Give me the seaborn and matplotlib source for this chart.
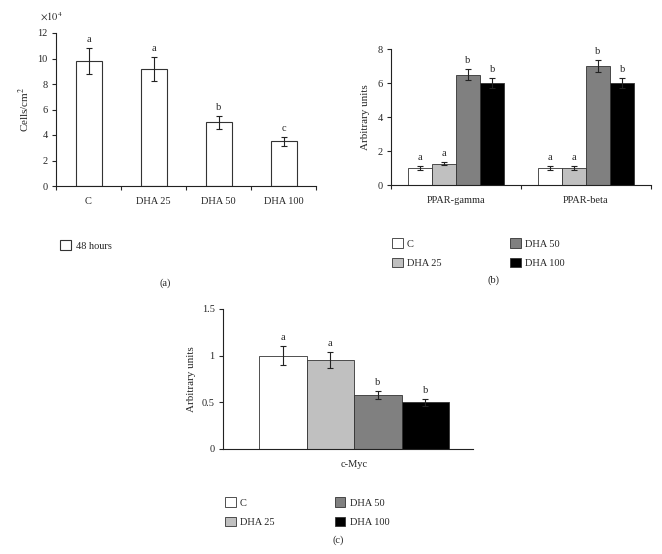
import matplotlib
matplotlib.use("Agg")
import matplotlib.pyplot as plt
import matplotlib.ticker as ticker
from matplotlib.patches import Patch
import pandas as pd
import seaborn as sns

# --- data ---
cell_groups = ['C', 'DHA 25', 'DHA 50', 'DHA 100']
cell_counts = [9.8, 9.15, 5.0, 3.5]          # x10^4 cells/cm2
cell_err = [1.0, 0.95, 0.5, 0.35]
cell_letters = ['a', 'a', 'b', 'c']

treatments = ['C', 'DHA 25', 'DHA 50', 'DHA 100']
treat_colors = ['#ffffff', '#c0c0c0', '#808080', '#000000']

ppar_genes = ['PPAR-gamma', 'PPAR-beta']
ppar_gamma = [1.0, 1.25, 6.5, 6.0]
ppar_gamma_err = [0.12, 0.1, 0.3, 0.3]
ppar_beta = [1.0, 1.0, 7.0, 6.0]
ppar_beta_err = [0.1, 0.12, 0.35, 0.3]
ppar_gamma_letters = ['a', 'a', 'b', 'b']
ppar_beta_letters = ['a', 'a', 'b', 'b']

myc_gene = ['c-Myc']
myc_values = [1.0, 0.95, 0.58, 0.5]
myc_err = [0.1, 0.085, 0.04, 0.035]
myc_letters = ['a', 'a', 'b', 'b']

sns.set_theme(style="ticks")
plt.rcParams.update({
    'font.family': ['Liberation Serif', 'DejaVu Serif'],
    'mathtext.fontset': 'stix',
    'font.size': 7.5,
    'axes.linewidth': 0.8,
    'axes.edgecolor': '#222222',
    'xtick.labelsize': 7.5,
    'ytick.labelsize': 7.5,
    'xtick.major.size': 3,
    'ytick.major.size': 3,
    'xtick.minor.size': 3,
    'ytick.direction': 'out',
    'xtick.direction': 'out',
})

W, H = 662, 554
fig = plt.figure(figsize=(W / 100, H / 100), dpi=100)


def px_axes(left, right, top, bottom):
    return fig.add_axes([left / W, 1 - bottom / H, (right - left) / W, (bottom - top) / H])


def style_axis(ax, boundaries):
    sns.despine(ax=ax)
    ax.set_xlabel('')
    ax.tick_params(axis='x', which='major', length=0, pad=8)
    ax.tick_params(axis='y', length=3, width=0.8, pad=3)
    if boundaries is not None:
        ax.xaxis.set_minor_locator(ticker.FixedLocator(boundaries))
        ax.tick_params(axis='x', which='minor', length=3, width=0.8)
    ax.yaxis.set_major_formatter(ticker.FormatStrFormatter('%g'))


def add_errors(ax, xs, ys, errs, letters):
    ax.errorbar(xs, ys, yerr=errs, fmt='none', ecolor='#222222', elinewidth=0.8,
                capsize=2.5, capthick=0.8, zorder=4)
    for x, y, e, t in zip(xs, ys, errs, letters):
        ax.annotate(t, (x, y + e), xytext=(0, 3), textcoords='offset points',
                    ha='center', va='bottom', fontsize=7.5)


# ---------------- (a) cell counts ----------------
ax_a = px_axes(56, 316, 33, 186)
df_a = pd.DataFrame({'group': cell_groups, 'count': cell_counts})
sns.barplot(data=df_a, x='group', y='count', color='white', edgecolor='#333333',
            linewidth=0.8, width=0.4, errorbar=None, ax=ax_a)
ax_a.set_ylim(0, 12)
ax_a.set_yticks(range(0, 13, 2))
ax_a.set_xlim(-0.5, 3.5)
style_axis(ax_a, [-0.5, 0.5, 1.5, 2.5, 3.5])
ax_a.set_ylabel(r'Cells/cm$^2$', fontsize=8)
ax_a.yaxis.set_label_coords(-0.092, 0.5)
xs_a = [p.get_x() + p.get_width() / 2 for p in ax_a.patches]
add_errors(ax_a, xs_a, cell_counts, cell_err, cell_letters)
fig.text(40 / W, 1 - 17 / H, r'$\times 10^4$', fontsize=7.5, va='center', ha='left')
ax_a.legend(handles=[Patch(facecolor='white', edgecolor='#333333', linewidth=0.8)],
            labels=['48 hours'], loc='upper left', bbox_to_anchor=(51 / W, 1 - 231 / H),
            bbox_transform=fig.transFigure, frameon=False, handlelength=1.0,
            handleheight=1.0, handletextpad=0.5, fontsize=7.5)
fig.text(165 / W, 1 - 283 / H, '(a)', ha='center', va='center', fontsize=7.5)

# ---------------- (b) PPAR ----------------
ax_b = px_axes(391, 651, 49, 185)
df_b = pd.DataFrame({
    'gene': [g for g in ppar_genes for _ in treatments],
    'treatment': treatments * len(ppar_genes),
    'value': ppar_gamma + ppar_beta,
})
sns.barplot(data=df_b, x='gene', y='value', hue='treatment', hue_order=treatments,
            palette=treat_colors, edgecolor='#333333', linewidth=0.6, width=0.74,
            errorbar=None, legend=False, ax=ax_b)
ax_b.set_ylim(0, 8)
ax_b.set_yticks(range(0, 9, 2))
ax_b.set_xlim(-0.5, 1.5)
style_axis(ax_b, [-0.5, 0.5, 1.5])
ax_b.set_ylabel('Arbitrary units', fontsize=8)
ax_b.yaxis.set_label_coords(-0.08, 0.5)
bar_groups_b = list(ax_b.containers)
for i, cont in enumerate(bar_groups_b):
    xs = [p.get_x() + p.get_width() / 2 for p in cont]
    add_errors(ax_b, xs, [ppar_gamma[i], ppar_beta[i]], [ppar_gamma_err[i], ppar_beta_err[i]],
               [ppar_gamma_letters[i], ppar_beta_letters[i]])
handles = [Patch(facecolor=c, edgecolor='#333333', linewidth=0.6) for c in treat_colors]
ax_b.legend(handles=handles, labels=treatments, ncol=2, loc='upper left',
            bbox_to_anchor=(383 / W, 1 - 229 / H), bbox_transform=fig.transFigure,
            frameon=False, handlelength=1.0, handleheight=1.0, handletextpad=0.4,
            columnspacing=6.6, labelspacing=0.9, fontsize=7.5)
fig.text(494 / W, 1 - 280 / H, '(b)', ha='center', va='center', fontsize=7.5)

# ---------------- (c) c-Myc ----------------
ax_c = px_axes(223, 473, 309, 449)
df_c = pd.DataFrame({'gene': myc_gene * len(treatments), 'treatment': treatments,
                     'value': myc_values})
sns.barplot(data=df_c, x='gene', y='value', hue='treatment', hue_order=treatments,
            palette=treat_colors, edgecolor='#333333', linewidth=0.6, width=0.76,
            errorbar=None, legend=False, ax=ax_c)
ax_c.set_ylim(0, 1.5)
ax_c.set_yticks([0, 0.5, 1, 1.5])
ax_c.set_xlim(-0.524, 0.476)
style_axis(ax_c, None)
ax_c.set_ylabel('Arbitrary units', fontsize=8)
ax_c.yaxis.set_label_coords(-0.11, 0.5)
bar_groups_c = list(ax_c.containers)
for i, cont in enumerate(bar_groups_c):
    xs = [p.get_x() + p.get_width() / 2 for p in cont]
    add_errors(ax_c, xs, [myc_values[i]], [myc_err[i]], [myc_letters[i]])
ax_c.legend(handles=handles, labels=treatments, ncol=2, loc='upper left',
            bbox_to_anchor=(216 / W, 1 - 488 / H), bbox_transform=fig.transFigure,
            frameon=False, handlelength=1.0, handleheight=1.0, handletextpad=0.4,
            columnspacing=5.8, labelspacing=0.9, fontsize=7.5)
fig.text(338 / W, 1 - 540 / H, '(c)', ha='center', va='center', fontsize=7.5)

fig.savefig('out.png', dpi=100, facecolor='white')
